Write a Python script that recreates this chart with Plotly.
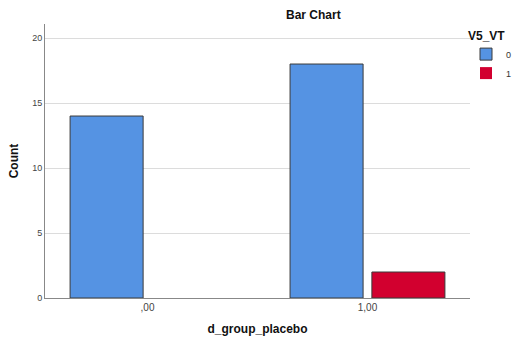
import plotly.graph_objects as go

categories = [0, 1]
tick_labels = [",00", "1,00"]
series_names = ["0", "1"]
counts_v0 = [14, 18]
counts_v1 = [0, 2]
colors = ["#5593E3", "#D2002F"]

fig = go.Figure()
fig.add_trace(go.Bar(x=categories, y=counts_v0, name=series_names[0],
                     width=0.332, offset=-0.352,
                     marker=dict(color=colors[0], line=dict(color="#3a3a3a", width=1))))
fig.add_trace(go.Bar(x=categories, y=counts_v1, name=series_names[1],
                     width=0.332, offset=0.020,
                     marker=dict(color=colors[1], line=dict(color="#3a3a3a", width=[0, 1]))))

font_family = "Liberation Sans, Arial, sans-serif"
plot_w = 515 - 45 - 45
plot_h = 340 - 24 - 42
fig.update_layout(
    width=515, height=340,
    margin=dict(l=45, r=45, t=24, b=42, autoexpand=False),
    paper_bgcolor="white", plot_bgcolor="white",
    font=dict(family=font_family, color="#222"),
    showlegend=True,
    hovermode=False,
    legend=dict(x=(466 - 45) / plot_w, xanchor="left", y=1.0, yanchor="top",
                title=dict(text="<b>V5_VT</b>", font=dict(size=12, color="#111")),
                font=dict(size=9, color="#333"),
                itemwidth=30, tracegroupgap=0, bgcolor="rgba(0,0,0,0)"),
    annotations=[dict(text="<b>Bar Chart</b>", x=(313 - 45) / plot_w, xref="paper",
                      y=(298 - 15) / plot_h, yref="paper", xanchor="center", yanchor="middle",
                      showarrow=False, font=dict(size=12, color="#111"))],
)

fig.update_xaxes(range=[-0.466, 1.466], tickvals=categories, ticktext=tick_labels,
                 showgrid=False, showline=True, linecolor="#888", linewidth=1,
                 ticks="", tickfont=dict(size=10, color="#444"),
                 title=dict(text="<b>d_group_placebo</b>", font=dict(size=12, color="#111"), standoff=12),
                 zeroline=False)
fig.update_yaxes(range=[0, 21.08], tickvals=[0, 5, 10, 15, 20],
                 showgrid=True, gridcolor="#DCDCDC", gridwidth=1,
                 showline=True, linecolor="#888", linewidth=1,
                 ticks="", tickfont=dict(size=9, color="#444"),
                 title=dict(text="<b>Count</b>", font=dict(size=12, color="#111"), standoff=10),
                 zeroline=False)

fig.write_html("out.html", config={"displayModeBar": False, "staticPlot": True},
               post_script="document.body.style.margin='0';")
